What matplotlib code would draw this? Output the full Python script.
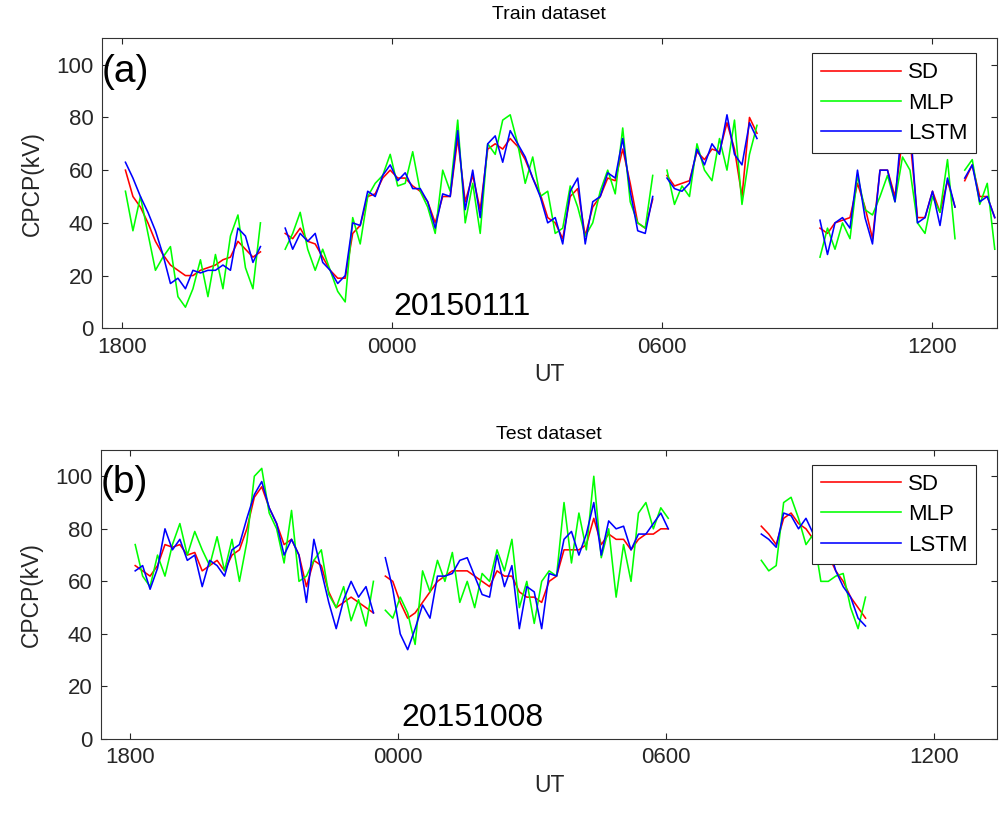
import numpy as np
import matplotlib
matplotlib.use("Agg")
import matplotlib.pyplot as plt

plt.rcParams['font.family'] = ['Liberation Sans', 'DejaVu Sans']

# ---------------- data (10-minute samples, CPCP in kV) ----------------
step_min = 10
series_names = ["SD", "MLP", "LSTM"]
series_colors = ["#ff0000", "#00ff00", "#0000ff"]
x_tick_hours = [0, 6, 12, 18]
x_tick_labels = ["1800", "0000", "0600", "1200"]
y_ticks = [0, 20, 40, 60, 80, 100]

# Train dataset, 20150111
train_starts = ["18:05", "21:38", "06:07", "09:31", "12:44"]
train_sd = [
    [60, 50, 46, 40, 33, 28, 24, 22, 20, 20, 22, 23, 24, 26, 27, 33, 30, 27, 29],
    [36, 34, 38, 33, 32, 27, 22, 19, 19, 36, 39, 50, 51, 57, 60, 57, 57, 54, 52, 48,
     40, 50, 50, 72, 48, 58, 45, 68, 70, 68, 72, 69, 64, 57, 51, 42, 40, 34, 50, 53,
     35, 46, 50, 57, 56, 68, 55, 40, 38, 49],
    [58, 54, 55, 56, 67, 64, 68, 67, 78, 68, 50, 80, 74],
    [38, 36, 40, 41, 42, 55, 46, 34, 60, 60, 50, 72, 72, 42, 42, 52, 44, 56, 46],
    [56, 62, 50, 50, 42],
]
train_mlp = [
    [52, 37, 50, 36, 22, 27, 31, 12, 8, 15, 26, 12, 28, 15, 35, 43, 23, 15, 40],
    [30, 36, 44, 30, 22, 30, 22, 14, 10, 42, 32, 50, 55, 58, 66, 54, 55, 67, 52, 46,
     36, 60, 52, 79, 40, 55, 36, 70, 66, 79, 81, 70, 55, 65, 50, 52, 36, 38, 54, 46,
     35, 40, 52, 60, 51, 76, 48, 40, 38, 58],
    [60, 47, 54, 50, 70, 60, 56, 72, 60, 79, 47, 66, 77],
    [27, 38, 30, 40, 34, 58, 45, 43, 50, 58, 48, 65, 60, 40, 36, 50, 44, 64, 34],
    [60, 64, 47, 55, 30],
]
train_lstm = [
    [63, 57, 50, 44, 37, 28, 17, 19, 15, 22, 21, 22, 22, 24, 22, 38, 35, 25, 31],
    [38, 30, 36, 33, 36, 25, 22, 17, 20, 40, 39, 52, 50, 58, 62, 56, 59, 53, 53, 48,
     38, 51, 50, 75, 45, 60, 42, 70, 73, 63, 75, 70, 65, 57, 50, 40, 42, 32, 52, 57,
     32, 48, 50, 59, 57, 72, 52, 37, 36, 50],
    [57, 53, 52, 55, 68, 62, 70, 66, 81, 66, 62, 78, 72],
    [41, 28, 40, 42, 38, 60, 42, 32, 60, 60, 48, 80, 78, 40, 42, 52, 39, 57, 46],
    [57, 62, 48, 50, 42],
]

# Test dataset, 20151008
test_starts = ["18:07", "23:43", "08:08"]
test_sd = [
    [66, 64, 62, 66, 74, 73, 74, 70, 71, 64, 66, 68, 64, 70, 72, 80, 92, 96, 88, 82,
     74, 76, 70, 58, 68, 66, 56, 50, 52, 54, 52, 50, 48],
    [62, 60, 52, 46, 48, 52, 56, 60, 62, 64, 64, 64, 62, 60, 58, 64, 62, 62, 56, 54,
     54, 52, 60, 62, 72, 72, 72, 74, 84, 74, 78, 76, 76, 72, 76, 78, 78, 80, 80],
    [81, 78, 74, 84, 86, 82, 80, 76, 72, 70, 64, 60, 54, 50, 46],
]
test_mlp = [
    [74, 62, 58, 70, 62, 74, 82, 70, 79, 72, 66, 77, 64, 76, 60, 75, 100, 103, 86, 80,
     67, 87, 60, 62, 68, 72, 55, 50, 58, 45, 53, 43, 60],
    [49, 46, 54, 48, 36, 64, 56, 68, 60, 71, 52, 60, 50, 63, 60, 72, 64, 76, 50, 60,
     44, 60, 64, 62, 90, 67, 86, 72, 100, 69, 80, 54, 74, 60, 86, 90, 80, 88, 84],
    [68, 64, 66, 90, 92, 84, 74, 78, 60, 60, 62, 63, 50, 42, 54],
]
test_lstm = [
    [64, 66, 57, 65, 80, 72, 76, 68, 70, 58, 68, 66, 62, 72, 74, 84, 93, 98, 88, 82,
     70, 76, 70, 52, 76, 64, 52, 42, 53, 60, 54, 58, 48],
    [69, 57, 40, 34, 42, 51, 46, 62, 62, 63, 68, 69, 62, 55, 54, 70, 58, 66, 42, 58,
     56, 42, 63, 62, 76, 79, 70, 78, 90, 70, 83, 80, 81, 72, 78, 78, 82, 86, 80],
    [78, 76, 73, 86, 85, 80, 84, 78, 76, 74, 64, 58, 54, 46, 43],
]


def hours_since_1800(hhmm):
    hh, mm = (int(s) for s in hhmm.split(":"))
    h = hh + mm / 60.0 - 18.0
    return h + 24.0 if h < 0 else h


def draw_panel(ax, starts, sd, mlp, lstm, title, tag, date, date_x, xlim, title_pad):
    groups = [sd, mlp, lstm]
    for gi, (name, color) in enumerate(zip(series_names, series_colors)):
        for si, start in enumerate(starts):
            vals = np.asarray(groups[gi][si], dtype=float)
            t = hours_since_1800(start) + np.arange(len(vals)) * step_min / 60.0
            ax.plot(t, vals, color=color, lw=1.15,
                    label=name if si == 0 else None, zorder=2 + gi)
    ax.set_xlim(*xlim)
    ax.set_ylim(0, 110)
    ax.set_xticks(x_tick_hours)
    ax.set_xticklabels(x_tick_labels)
    ax.set_yticks(y_ticks)
    ax.tick_params(direction="in", top=True, right=True, length=4.5, width=0.8,
                   labelsize=16, colors="#262626", pad=6)
    for sp in ax.spines.values():
        sp.set_color("#333333")
        sp.set_linewidth(0.8)
    ax.set_xlabel("UT", fontsize=16.5, color="#262626", labelpad=4)
    ax.set_ylabel("CPCP(kV)", fontsize=16.5, color="#262626", labelpad=9)
    ax.set_title(title, fontsize=14, color="#000000", pad=title_pad)
    ax.text(0.0, 0.885, tag, transform=ax.transAxes, fontsize=28,
            ha="left", va="center", color="#000000")
    ax.text(date_x, 0.073, date, transform=ax.transAxes, fontsize=23,
            ha="center", va="center", color="#000000")
    leg = ax.legend(loc="upper right", bbox_to_anchor=(0.977, 0.948),
                    fontsize=16, handlelength=3.6, handletextpad=0.3,
                    labelspacing=0.42, borderpad=0.4, fancybox=False,
                    framealpha=1.0, edgecolor="#262626", borderaxespad=0.0)
    leg.get_frame().set_linewidth(0.8)
    leg.set_zorder(10)


fig = plt.figure(figsize=(9.99, 8.13), dpi=100)
ax1 = fig.add_axes([0.1018, 0.5962, 0.8962, 0.3566])
ax2 = fig.add_axes([0.1011, 0.0910, 0.8969, 0.3555])

draw_panel(ax1, train_starts, train_sd, train_mlp, train_lstm,
           "Train dataset", "(a)", "20150111", 0.403, (-0.444, 19.45), 14)
draw_panel(ax2, test_starts, test_sd, test_mlp, test_lstm,
           "Test dataset", "(b)", "20151008", 0.415, (-0.649, 19.41), 8)

fig.savefig("out.png", dpi=100)
